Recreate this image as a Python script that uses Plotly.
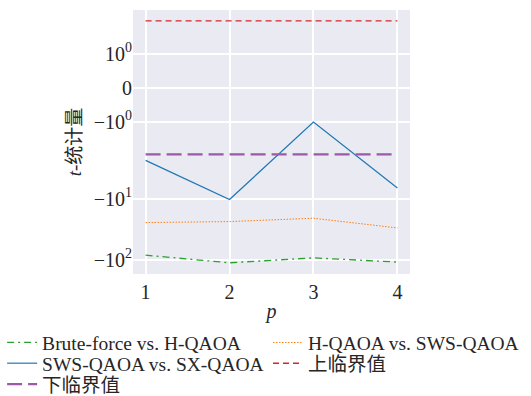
import numpy as np
import plotly.graph_objects as go

# ---- data ----
p_values = [1, 2, 3, 4]
brute_vs_hqaoa = [-84.0, -112.0, -93.0, -109.0]
hqaoa_vs_sws = [-24.7, -23.8, -21.0, -30.2]
sws_vs_sx = [-2.39, -10.4, -1.01, -6.73]
upper_critical = [1.96, 1.96, 1.96, 1.96]
lower_critical = [-1.96, -1.96, -1.96, -1.96]
y_tick_values = [1, 0, -1, -10, -100]
y_tick_labels = ["10<sup>0</sup>", "0", "−10<sup>0</sup>", "−10<sup>1</sup>", "−10<sup>2</sup>"]
x_tick_labels = ["1", "2", "3", "4"]

# symlog scale (linthresh=2, linscale=1, base 10), like matplotlib
LINTHRESH = 2.0
LINSCALE_ADJ = 1.0 / (1.0 - 1.0 / 10.0)


def symlog(v):
    v = np.asarray(v, dtype=float)
    a = np.abs(v)
    out = np.where(a <= LINTHRESH, v * LINSCALE_ADJ,
                   np.sign(v) * LINTHRESH * (LINSCALE_ADJ + np.log10(np.maximum(a, 1e-12) / LINTHRESH)))
    return out.tolist()


SERIF = "Liberation Serif, Times New Roman, Noto Sans CJK SC, serif"
LEG_FONT = dict(family=SERIF, size=19.5, color="#262626")

fig = go.Figure()
fig.add_trace(go.Scatter(x=p_values, y=symlog(brute_vs_hqaoa), mode="lines",
                         name="Brute-force vs. H-QAOA", legend="legend",
                         line=dict(color="#2ca02c", width=1.3, dash="7px,4px,2px,4px")))
fig.add_trace(go.Scatter(x=p_values, y=symlog(hqaoa_vs_sws), mode="lines",
                         name="H-QAOA vs. SWS-QAOA", legend="legend2",
                         line=dict(color="#ff7f0e", width=1.0, dash="1.5px,1.5px")))
fig.add_trace(go.Scatter(x=p_values, y=symlog(sws_vs_sx), mode="lines",
                         name="SWS-QAOA vs. SX-QAOA", legend="legend3",
                         line=dict(color="#1f77b4", width=1.2)))
fig.add_trace(go.Scatter(x=p_values, y=symlog(upper_critical), mode="lines",
                         name="上临界值", legend="legend4",
                         line=dict(color="#d62728", width=1.4, dash="6px,4px")))
fig.add_trace(go.Scatter(x=p_values, y=symlog(lower_critical), mode="lines",
                         name="下临界值", legend="legend5",
                         line=dict(color="#9a5aa8", width=2.2, dash="15px,6px")))


def leg(x, y):
    return dict(orientation="h", xref="container", yref="container",
                x=x, xanchor="left", y=y, yanchor="top",
                font=LEG_FONT, bgcolor="rgba(0,0,0,0)", itemwidth=30)


COL1, COL2 = 0.004, 0.5047
ROW1, ROW2, ROW3 = 0.1836, 0.1313, 0.0783

fig.update_layout(
    width=531, height=396,
    margin=dict(l=133, r=121, t=10, b=122, autoexpand=False),
    plot_bgcolor="#EAEAF2",
    paper_bgcolor="white",
    font=dict(family=SERIF, size=20, color="#262626"),
    showlegend=True,
    legend=leg(COL1, ROW1),
    legend2=leg(COL2, ROW1),
    legend3=leg(COL1, ROW2),
    legend4=leg(COL2, ROW2),
    legend5=leg(COL1, ROW3),
)

fig.update_xaxes(
    range=[0.85, 4.15], automargin=False,
    tickmode="array", tickvals=p_values, ticktext=x_tick_labels,
    showgrid=True, gridcolor="white", gridwidth=1.5,
    zeroline=False, showline=False, ticks="",
    tickfont=dict(size=20), ticklabelstandoff=4,
    title=dict(text="<i>p</i>", font=dict(size=20), standoff=2),
)
fig.update_yaxes(
    range=[-6.084, 2.532], automargin=False,
    tickmode="array", tickvals=symlog(y_tick_values), ticktext=y_tick_labels,
    showgrid=True, gridcolor="white", gridwidth=1.5,
    zeroline=False, showline=False, ticks="",
    tickfont=dict(size=20),
    title=dict(text="<i>t</i>-统计量", font=dict(size=19), standoff=7),
)

fig.write_html("out.html")
